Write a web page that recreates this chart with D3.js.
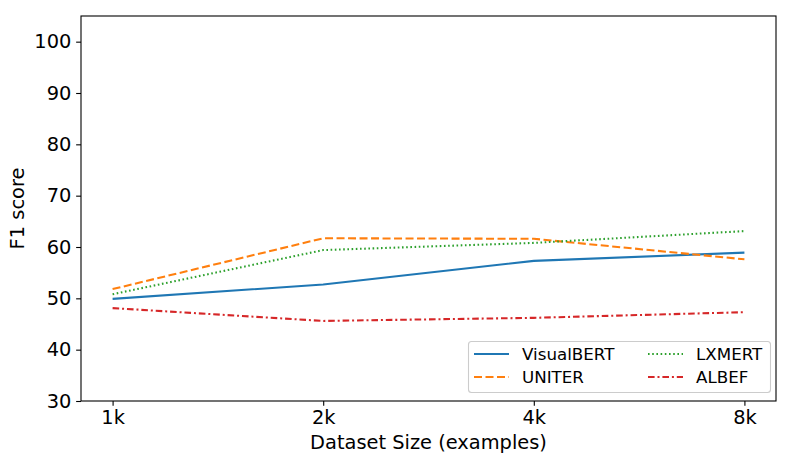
<!DOCTYPE html>
<html><head><meta charset="utf-8">
<script src="https://cdn.jsdelivr.net/npm/d3@7"></script>
<style>body{margin:0;background:#fff;}svg{display:block;font-family:"DejaVu Sans",sans-serif;}</style>
</head><body>
<svg id="c" width="794" height="456"></svg>
<script>
const categories = ["1k","2k","4k","8k"];
const seriesNames = ["VisualBERT","UNITER","LXMERT","ALBEF"];
const visualbert = [49.9, 52.7, 57.3, 58.9];
const uniter = [51.8, 61.7, 61.6, 57.6];
const lxmert = [50.8, 59.4, 60.8, 63.1];
const albef = [48.1, 45.6, 46.2, 47.3];
const yTicks = [30,40,50,60,70,80,90,100];
const colors = ["#1f77b4","#ff7f0e","#2ca02c","#d62728"];
const dashes = [null, "8,3.5", "1.6,2.6", "6.6,2.9,2,2.9"];
const values = [visualbert, uniter, lxmert, albef];

const svg = d3.select("#c");
const L = 81, R = 776, T = 16, B = 401;
const x = d3.scaleLinear().domain([-0.15, 3.15]).range([L, R]);
const y = d3.scaleLinear().domain([30, 105]).range([B, T]);

// lines
const line = d3.line().x((d,i)=>x(i)).y(d=>y(d));
values.forEach((v,k)=>{
  svg.append("path").datum(v).attr("d", line).attr("fill","none")
    .attr("stroke", colors[k]).attr("stroke-width", 2.08)
    .attr("stroke-dasharray", dashes[k]).attr("stroke-linecap","butt");
});

// axes
const xAxis = d3.axisBottom(x).tickValues([0,1,2,3]).tickFormat(i=>categories[i]).tickSize(4.86).tickPadding(4.8);
const yAxis = d3.axisLeft(y).tickValues(yTicks).tickSize(4.86).tickPadding(4.8);
const gx = svg.append("g").attr("transform",`translate(0,${B})`).call(xAxis);
const gy = svg.append("g").attr("transform",`translate(${L},0)`).call(yAxis);
[gx,gy].forEach(g=>{
  g.select(".domain").remove();
  g.selectAll("line").attr("stroke","#000").attr("stroke-width",1.1);
  g.selectAll("text").attr("font-size",19.4).attr("fill","#000").attr("font-family","DejaVu Sans");
});
// frame
svg.append("rect").attr("x",L).attr("y",T).attr("width",R-L).attr("height",B-T)
  .attr("fill","none").attr("stroke","#000").attr("stroke-width",1.1);

// axis labels
svg.append("text").attr("x",(L+R)/2).attr("y",449).attr("text-anchor","middle")
  .attr("font-size",19.4).text("Dataset Size (examples)");
svg.append("text").attr("transform",`translate(23.5,${(T+B)/2}) rotate(-90)`).attr("text-anchor","middle")
  .attr("font-size",19.4).text("F1 score");

// legend
const lg = svg.append("g");
lg.append("rect").attr("x",468.5).attr("y",341.5).attr("width",302).attr("height",51).attr("rx",3)
  .attr("fill","#fff").attr("fill-opacity",0.8).attr("stroke","#ccc").attr("stroke-width",1.1);
const pos = [[474,354],[474,377],[648,354],[648,377]];
seriesNames.forEach((n,k)=>{
  const [px,py] = pos[k];
  lg.append("line").attr("x1",px).attr("x2",px+35).attr("y1",py).attr("y2",py)
    .attr("stroke",colors[k]).attr("stroke-width",2.08).attr("stroke-dasharray",dashes[k]);
  lg.append("text").attr("x",px+48).attr("y",py+6).attr("font-size",16.7).text(n);
});
</script>
</body></html>
